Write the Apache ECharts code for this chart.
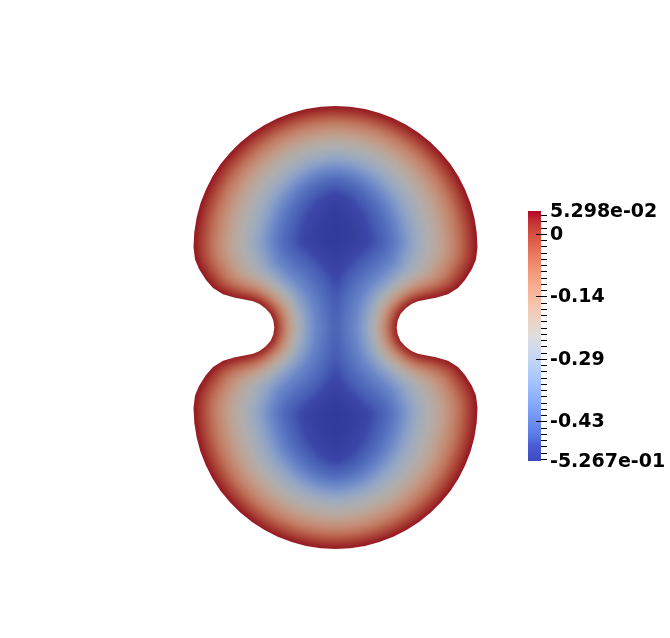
<!DOCTYPE html>
<html>
<head>
<meta charset="utf-8">
<script src="https://cdn.jsdelivr.net/npm/echarts@6/dist/echarts.min.js"></script>
<style>html,body{margin:0;padding:0;background:#fff}#c{width:670px;height:638px}</style>
</head>
<body>
<div id="c"></div>
<script>
// ---- upper-right quarter of the domain outline (from the top, clockwise), domain units ----
// the domain is symmetric about both axes
const quarterX = [0, 0.148, 0.295, 0.439, 0.578, 0.710, 0.835, 0.950, 1.055, 1.149, 1.230, 1.297, 1.351, 1.389,
  1.412, 1.420, 1.405, 1.365, 1.295, 1.225, 1.125, 1.005, 0.900, 0.825, 0.760, 0.700, 0.650, 0.622, 0.612];
const quarterY = [2.215, 2.207, 2.184, 2.146, 2.093, 2.026, 1.946, 1.853, 1.748, 1.634, 1.510, 1.378, 1.241, 1.098,
  0.952, 0.805, 0.680, 0.585, 0.475, 0.395, 0.333, 0.297, 0.278, 0.262, 0.235, 0.190, 0.135, 0.070, 0];
// relative thickness of the boundary layer at each outline point
const quarterRim = [0.82, 0.82, 0.83, 0.845, 0.86, 0.88, 0.90, 0.92, 0.94, 0.955, 0.97, 0.985, 1, 1,
  1, 1, 1, 1, 1, 1, 1, 1, 1, 1, 1, 1, 1, 1, 1];
// how much each outline point follows the notch profile (0 = lobe side, 1 = notch)
const quarterNotch = [0, 0, 0, 0, 0, 0, 0, 0, 0, 0, 0, 0, 0, 0,
  0, 0, 0, 0.05, 0.15, 0.3, 0.5, 0.7, 0.85, 0.95, 1, 1, 1, 1, 1];

// field value vs depth from the boundary: along the lobe side and across the waist notch
const profileValue = [0.05298, 0.02, -0.017, -0.092, -0.150, -0.202, -0.237, -0.300, -0.390, -0.450, -0.495, -0.518, -0.5267];
const sideDepth  = [0, 0.05, 0.11, 0.21, 0.31, 0.41, 0.50, 0.64, 0.78, 0.91, 1.08, 1.25, 1.42];
const notchDepth = [0, 0.022, 0.05, 0.10, 0.14, 0.19, 0.23, 0.30, 0.42, 0.58, 0.74, 0.88, 1.00];

const valueMin = -0.5267, valueMax = 0.05298;
const tickValues = [0.05298, 0, -0.145, -0.29, -0.435, -0.5267];
const tickLabels = ['5.298e-02', '0', '-0.14', '-0.29', '-0.43', '-5.267e-01'];
const majorTickValues = [0, -0.145, -0.29, -0.435];
const minorTickValues = [0.0435, 0.029, 0.0145, 0, -0.0145, -0.029, -0.0435, -0.058, -0.0725, -0.087,
  -0.1015, -0.116, -0.1305, -0.145, -0.1595, -0.174, -0.1885, -0.203, -0.2175, -0.232,
  -0.2465, -0.261, -0.2755, -0.29, -0.3045, -0.319, -0.3335, -0.348, -0.3625, -0.377,
  -0.3915, -0.406, -0.4205, -0.435, -0.4495, -0.464, -0.4785, -0.493, -0.5075, -0.522];

// full outline from the quarter, by symmetry
const outlineX = [], outlineY = [], outlineRim = [], outlineNotch = [];
function addPoint(i, sx, sy) {
  outlineX.push(sx * quarterX[i]); outlineY.push(sy * quarterY[i]);
  outlineRim.push(quarterRim[i]); outlineNotch.push(quarterNotch[i]);
}
const Q = quarterX.length;
for (let i = 0; i < Q; i++) addPoint(i, 1, 1);
for (let i = Q - 2; i >= 0; i--) addPoint(i, 1, -1);
for (let i = 1; i < Q; i++) addPoint(i, -1, -1);
for (let i = Q - 2; i >= 1; i--) addPoint(i, -1, 1);

// Cool to Warm colour map
const coolWarm = ['#3b4cc0','#4453cc','#4d5ad7','#5775e1','#6282ea','#6c8ef1','#779af7','#82a5fb','#8db0fe',
  '#98b9ff','#a3c2ff','#aec9fd','#b8d0f9','#c2d5f4','#ccd9ee','#d5dbe6','#dddddd','#e5d8d1','#ecd3c5',
  '#f1ccb9','#f5c4ad','#f7bba0','#f7b194','#f7a687','#f49a7b','#f18d6f','#ec7f63','#e57058','#de604d',
  '#d55042','#cb3e38','#c0282f','#b40426'];
const shade = 0.79;
const surfacePalette = coolWarm.map(c => {
  const a = echarts.color.parse(c);
  return 'rgb(' + Math.round(a[0] * shade) + ',' + Math.round(a[1] * shade) + ',' + Math.round(a[2] * shade) + ')';
});
function surfaceColor(v) {
  const t = Math.min(1, Math.max(0, (v - valueMin) / (valueMax - valueMin)));
  return echarts.color.lerp(t, surfacePalette);
}

function renderSurface(params, api) {
  const N = profileValue.length;
  const k = N - 1 - params.dataIndex;
  const unit = api.size([1, 0])[0];
  const pts = outlineX.map((x, i) => api.coord([x, outlineY[i]]));
  const children = [];
  if (k === N - 1) {
    children.push({ type: 'polygon', silent: true, shape: { points: pts }, style: { fill: surfaceColor(profileValue[k]) } });
  }
  if (k > 0) {
    const span = Math.max(sideDepth[k] - sideDepth[k - 1], notchDepth[k] - notchDepth[k - 1]);
    const n = Math.max(1, Math.ceil(span * unit / 1.5));
    for (let j = 0; j < n; j++) {
      const f = j / n;
      const ds = sideDepth[k] + (sideDepth[k - 1] - sideDepth[k]) * f;
      const dn = notchDepth[k] + (notchDepth[k - 1] - notchDepth[k]) * f;
      const col = surfaceColor(profileValue[k] + (profileValue[k - 1] - profileValue[k]) * f);
      for (let i = 0; i < pts.length; i++) {
        const i2 = (i + 1) % pts.length;
        const s = (outlineRim[i] + outlineRim[i2]) / 2;
        const w = (outlineNotch[i] + outlineNotch[i2]) / 2;
        const d = s * ((1 - w) * ds + w * dn);
        children.push({
          type: 'line', silent: true,
          shape: { x1: pts[i][0], y1: pts[i][1], x2: pts[i2][0], y2: pts[i2][1] },
          style: { stroke: col, lineWidth: 2 * d * unit, lineCap: 'round' }
        });
      }
    }
  }
  return { type: 'group', children };
}

function renderMask(params, api) {
  const r = params.coordSys;
  let p = 'M' + (r.x - 2) + ' ' + (r.y - 2) + 'L' + (r.x - 2) + ' ' + (r.y + r.height + 2) +
          'L' + (r.x + r.width + 2) + ' ' + (r.y + r.height + 2) + 'L' + (r.x + r.width + 2) + ' ' + (r.y - 2) + 'Z';
  outlineX.forEach((x, i) => {
    const c = api.coord([x, outlineY[i]]);
    p += (i === 0 ? 'M' : 'L') + c[0].toFixed(2) + ' ' + c[1].toFixed(2);
  });
  p += 'Z';
  return { type: 'path', silent: true, shape: { pathData: p }, style: { fill: '#ffffff', stroke: null } };
}

function renderColorBar(params, api) {
  const top = api.coord([0, valueMax]);
  const bottom = api.coord([0, valueMin]);
  const x0 = params.coordSys.x;
  const stops = coolWarm.map((c, i) => ({ offset: 1 - i / (coolWarm.length - 1), color: c })).reverse();
  const children = [{
    type: 'rect', silent: true,
    shape: { x: x0, y: top[1], width: 13, height: bottom[1] - top[1] },
    style: { fill: new echarts.graphic.LinearGradient(0, 0, 0, 1, stops) }
  }];
  minorTickValues.forEach(v => {
    const y = Math.round(api.coord([0, v])[1]) + 0.5;
    children.push({ type: 'line', silent: true, shape: { x1: x0 + 13, y1: y, x2: x0 + 19, y2: y },
      style: { stroke: '#000', lineWidth: 1 } });
  });
  majorTickValues.forEach(v => {
    const y = Math.round(api.coord([0, v])[1]) + 0.5;
    children.push({ type: 'line', silent: true, shape: { x1: x0 + 8, y1: y, x2: x0 + 19, y2: y },
      style: { stroke: '#000', lineWidth: 1 } });
  });
  tickValues.forEach((v, i) => {
    const y = api.coord([0, v])[1];
    children.push({ type: 'text', silent: true,
      style: { text: tickLabels[i], x: x0 + 22, y: y + 1, fill: '#000',
        font: 'bold 19px "DejaVu Sans"', align: 'left', verticalAlign: 'middle',
        textAlign: 'left', textVerticalAlign: 'middle' } });
  });
  return { type: 'group', children };
}

const chart = echarts.init(document.getElementById('c'), null, { renderer: 'canvas' });
chart.setOption({
  animation: false,
  backgroundColor: '#ffffff',
  grid: [
    { left: 0, top: 0, width: 670, height: 638, containLabel: false, outerBoundsMode: 'none' },
    { left: 528, top: 211, width: 19, height: 250, containLabel: false, outerBoundsMode: 'none' }
  ],
  xAxis: [
    { gridIndex: 0, type: 'value', min: -3.355, max: 3.345, show: false },
    { gridIndex: 1, type: 'value', min: 0, max: 1, show: false }
  ],
  yAxis: [
    { gridIndex: 0, type: 'value', min: -3.105, max: 3.275, show: false },
    { gridIndex: 1, type: 'value', min: valueMin, max: valueMax, show: false }
  ],
  series: [
    { type: 'custom', name: 'field', xAxisIndex: 0, yAxisIndex: 0, renderItem: renderSurface,
      data: profileValue.map((v, i) => [sideDepth[i], v]).reverse(), silent: true, zlevel: 0, z: 1 },
    { type: 'custom', name: 'mask', xAxisIndex: 0, yAxisIndex: 0, renderItem: renderMask,
      data: [[0, 0]], silent: true, zlevel: 1, z: 2 },
    { type: 'custom', name: 'colorbar', xAxisIndex: 1, yAxisIndex: 1, renderItem: renderColorBar,
      data: [[0, valueMin]], silent: true, zlevel: 1, z: 3 }
  ]
});
// soft shading of the field layer (zlevel 0 canvas)
const layers = document.querySelectorAll('#c canvas');
if (layers.length > 1) layers[0].style.filter = 'blur(2.5px)';
</script>
</body>
</html>
